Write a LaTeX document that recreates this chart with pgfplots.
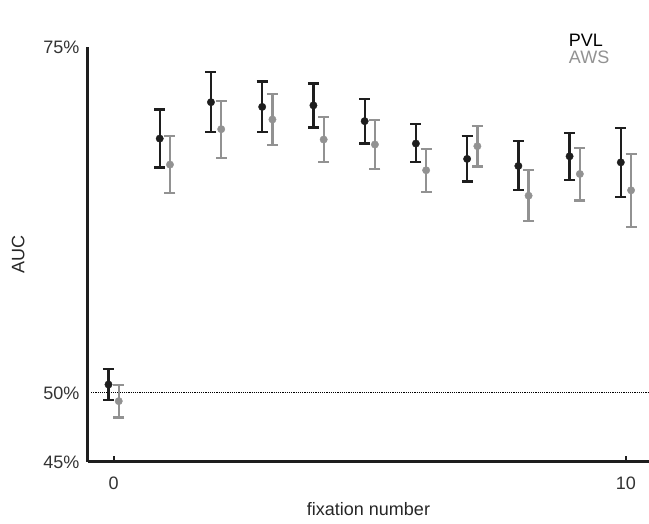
\documentclass[border=0pt]{standalone}
\usepackage{pgfplots}
\pgfplotsset{compat=1.18}
\usepackage{fontspec}
\setmainfont{Liberation Sans}
\definecolor{pvl}{HTML}{1E1E1E}
\definecolor{aws}{HTML}{929292}
\begin{document}
\begin{tikzpicture}
\begin{axis}[
  scale only axis,
  width=561pt, height=415pt,
  xmin=-0.5, xmax=10.45,
  ymin=45, ymax=75,
  axis x line=bottom, axis y line=left,
  axis line style={-, line width=3pt, color=pvl},
  xtick={0,10},
  ytick={45,50,75},
  yticklabels={45\%,50\%,75\%},
  xtick align=inside,
  major tick length=6pt,
  x tick style={line width=2pt, color=pvl},
  y tick style={draw=none},
  tick label style={font=\fontsize{18}{20}\selectfont, color=black!80},
  /pgf/number format/assume math mode=true,
  xticklabel style={yshift=-11pt},
  yticklabel style={xshift=-2pt},
  xlabel={fixation number},
  ylabel={AUC},
  label style={font=\fontsize{18}{20}\selectfont, color=black!85},
  xlabel style={yshift=-6pt},
  ylabel style={yshift=12pt},
  clip=false,
]
\addplot[black, densely dotted, line width=1.2pt] coordinates {(-0.44,50) (10.45,50)};

\addplot[pvl, only marks, mark=*, mark size=3.7pt,
  error bars/.cd, y dir=both, y explicit,
  error bar style={line width=2.3pt, color=pvl},
  error mark options={rotate=90, mark size=5.5pt, line width=2.3pt, color=pvl}]
coordinates {
  (-0.1,50.60) += (0,1.12) -= (0,1.13)
  (0.9,68.38) += (0,2.11) -= (0,2.10)
  (1.9,71.01) += (0,2.16) -= (0,2.15)
  (2.9,70.67) += (0,1.84) -= (0,1.81)
  (3.9,70.78) += (0,1.59) -= (0,1.60)
  (4.9,69.64) += (0,1.59) -= (0,1.62)
  (5.9,68.02) += (0,1.42) -= (0,1.35)
  (6.9,66.91) += (0,1.64) -= (0,1.64)
  (7.9,66.40) += (0,1.79) -= (0,1.76)
  (8.9,67.10) += (0,1.67) -= (0,1.69)
  (9.9,66.66) += (0,2.49) -= (0,2.51)
};

\addplot[aws, only marks, mark=*, mark size=3.7pt,
  error bars/.cd, y dir=both, y explicit,
  error bar style={line width=2.3pt, color=aws},
  error mark options={rotate=90, mark size=5.5pt, line width=2.3pt, color=aws}]
coordinates {
  (0.1,49.40) += (0,1.18) -= (0,1.19)
  (1.1,66.50) += (0,2.05) -= (0,2.06)
  (2.1,69.06) += (0,2.05) -= (0,2.10)
  (3.1,69.76) += (0,1.83) -= (0,1.84)
  (4.1,68.31) += (0,1.62) -= (0,1.62)
  (5.1,67.95) += (0,1.78) -= (0,1.77)
  (6.1,66.09) += (0,1.54) -= (0,1.55)
  (7.1,67.83) += (0,1.45) -= (0,1.47)
  (8.1,64.25) += (0,1.84) -= (0,1.84)
  (9.1,65.82) += (0,1.88) -= (0,1.91)
  (10.1,64.64) += (0,2.61) -= (0,2.66)
};

\node[anchor=west, font=\fontsize{18}{20}\selectfont, text=black, inner sep=0pt] at (rel axis cs:0.857,1.017) {PVL};
\node[anchor=west, font=\fontsize{18}{20}\selectfont, text=aws, inner sep=0pt] at (rel axis cs:0.857,0.976) {AWS};
\end{axis}
\pgfresetboundingbox
\path (current axis.south west) ++(-88pt,-62pt) rectangle ++(649pt,524pt);
\end{tikzpicture}
\end{document}
